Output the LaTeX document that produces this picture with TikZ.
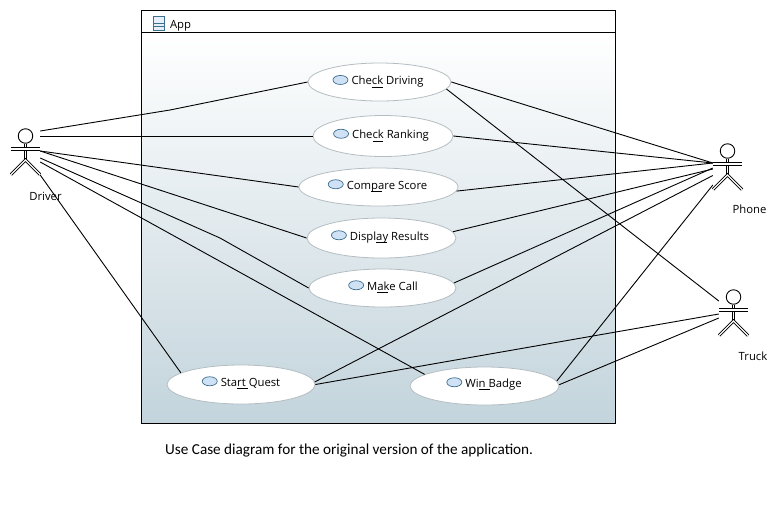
\documentclass[tikz,border=0pt]{standalone}
\usepackage{fontspec}
\setmainfont{Open Sans}
\newfontfamily\notefont{Carlito}
\usepackage{xcolor}
\usetikzlibrary{shapes.geometric,positioning}
\definecolor{framebottom}{HTML}{C3D4DC}
\definecolor{iconfill}{HTML}{CFE2F5}
\definecolor{iconline}{HTML}{3F6F8F}
\definecolor{ucline}{HTML}{B4BEC2}
\newcommand{\mnem}{\smash{\rlap{\rule[-2.9pt]{10.8pt}{0.9pt}}}}
\tikzset{
  usecase/.style={ellipse,draw=ucline,fill=white,inner sep=0pt,line width=0.8pt},
  uclabel/.style={anchor=base,inner sep=0pt,text height=10pt,text depth=0.5pt,font=\fontsize{11.3}{13}\selectfont},
  ucicon/.style={ellipse,draw=iconline,fill=iconfill,inner sep=0pt,minimum width=15pt,minimum height=9pt,line width=0.7pt},
  actorbox/.style={inner sep=0pt,minimum width=29pt,minimum height=47pt},
  limb/.style={draw=black,double=white,line width=0.9pt,double distance=1.3pt},
  assoc/.style={draw=black,line width=0.9pt},
  actorname/.style={anchor=base,inner sep=0pt,font=\fontsize{11.3}{13}\selectfont}
}
\newcommand{\actor}[3]{
  \begin{scope}[shift={(#2,#3)}]
    \node[actorbox] (#1) at (0,2.5) {};
    \node[circle,draw=black,line width=0.9pt,minimum size=14.5pt,inner sep=0pt] (#1head) at (0,-13) {};
    \draw[limb] (#1head.south) -- (0,11);
    \draw[limb] (-14.5,25.5) -- (0,11) -- (14.5,25.5);
    \draw[limb] (-14.5,0) -- (14.5,0);
  \end{scope}
}
\begin{document}
\begin{tikzpicture}[x=1pt,y=-1pt]
    \useasboundingbox (0,0) rectangle (778,507);
    % system frame
    \node[draw=black,line width=1pt,top color=white,bottom color=framebottom,minimum width=474pt,minimum height=391pt,inner sep=0pt] (frame) at (378,227.5) {};
    \node[draw=black,line width=1pt,fill=white,minimum width=474pt,minimum height=22pt,inner sep=0pt] (framehead) at (378,21) {};
    \node[anchor=base,inner sep=0pt,font=\fontsize{11.3}{13}\selectfont] (apptext) at (180.5,28) {App};
    \node[draw=iconline,fill=iconfill!50,minimum width=11.5pt,minimum height=14pt,inner sep=0pt,line width=0.7pt] (appicon) at (159,23) {};
    \draw[iconline,line width=0.7pt] (appicon.west |- 0,23.5) -- (appicon.east |- 0,23.5);
    \draw[iconline,line width=0.7pt] (appicon.west |- 0,26.5) -- (appicon.east |- 0,26.5);

    % use cases
    \node[usecase,minimum width=143pt,minimum height=38pt] (checkdriving) at (379.5,82) {};
    \node[usecase,minimum width=140pt,minimum height=41pt] (checkranking) at (383,136) {};
    \node[usecase,minimum width=159pt,minimum height=38pt] (comparescore) at (378.5,187) {};
    \node[usecase,minimum width=149pt,minimum height=40pt] (displayresults) at (381.5,238) {};
    \node[usecase,minimum width=147pt,minimum height=38pt] (makecall) at (382.5,288) {};
    \node[usecase,minimum width=148pt,minimum height=39pt] (startquest) at (241,384.5) {};
    \node[usecase,minimum width=149pt,minimum height=38pt] (winbadge) at (484.5,386) {};

    \node[uclabel] (checkdrivingtext) at (387.5,84.7) {Che\mnem ck Driving};
    \node[uclabel] (checkrankingtext) at (390.5,138.5) {Che\mnem ck Ranking};
    \node[uclabel] (comparescoretext) at (387,189) {Com\mnem pare Score};
    \node[uclabel] (displayresultstext) at (389.5,240) {Displ\mnem ay Results};
    \node[uclabel] (makecalltext) at (392.5,290) {M\mnem ake Call};
    \node[uclabel] (startquesttext) at (250.5,386) {Sta\mnem rt Quest};
    \node[uclabel] (winbadgetext) at (493.5,387) {Wi\mnem n Badge};

    \node[ucicon,left=3pt of checkdrivingtext] (checkdrivingicon) {};
    \node[ucicon,left=3pt of checkrankingtext] (checkrankingicon) {};
    \node[ucicon,left=3pt of comparescoretext] (comparescoreicon) {};
    \node[ucicon,left=3pt of displayresultstext] (displayresultsicon) {};
    \node[ucicon,left=3pt of makecalltext] (makecallicon) {};
    \node[ucicon,left=3pt of startquesttext] (startquesticon) {};
    \node[ucicon,left=3pt of winbadgetext] (winbadgeicon) {};

    % actors
    \actor{driver}{25.5}{149}
    \actor{phone}{727.5}{164}
    \actor{truck}{733.5}{310}
    \node[actorname] (drivertext) at (45.5,200) {Driver};
    \node[actorname] (phonetext) at (749.5,213.5) {Phone};
    \node[actorname] (trucktext) at (753,360) {Truck};

    % driver lines
    \coordinate (bendone) at (170,110);
    \coordinate (bendtwo) at (220,238);
    \draw[assoc] ([yshift=20.5pt]driver.east) -- (bendone) -- (checkdriving.west);
    \draw[assoc] ([yshift=15.5pt]driver.east) -- (checkranking.west);
    \draw[assoc] ([yshift=0.5pt]driver.east) -- (comparescore.west);
    \draw[assoc] ([yshift=0.5pt]driver.east) -- (displayresults.west);
    \draw[assoc] ([yshift=-6.5pt]driver.east) -- (bendtwo) -- (makecall.west);
    \draw[assoc] ([yshift=-10.5pt]driver.east) -- (winbadge.169);
    \draw[assoc] ([yshift=-23.5pt]driver.east) -- (startquest.169);

    % phone lines
    \draw[assoc] (checkdriving.east) -- ([yshift=3.5pt]phone.west);
    \draw[assoc] (checkranking.east) -- ([yshift=3.5pt]phone.west);
    \draw[assoc] (comparescore.357) -- ([yshift=3.5pt]phone.west);
    \draw[assoc] (displayresults.5) -- ([yshift=-2.5pt]phone.west);
    \draw[assoc] (makecall.4) -- ([yshift=-1.5pt]phone.west);
    \draw[assoc] (startquest.2) -- ([yshift=-9pt]phone.west);
    \draw[assoc] (winbadge.4) -- ([yshift=-18.5pt]phone.west);

    % truck lines
    \draw[assoc] (checkdriving.354) -- ([yshift=11.5pt]truck.west);
    \draw[assoc] (startquest.east) -- ([yshift=-1.5pt]truck.west);
    \draw[assoc] (winbadge.1) -- ([yshift=-5.5pt]truck.west);

    \node[anchor=west,inner sep=0pt,font=\notefont\fontsize{15.2}{18}\selectfont] (notetext) at (165,450.5) {Use Case diagram for the original version of the application.};
\end{tikzpicture}
\end{document}
